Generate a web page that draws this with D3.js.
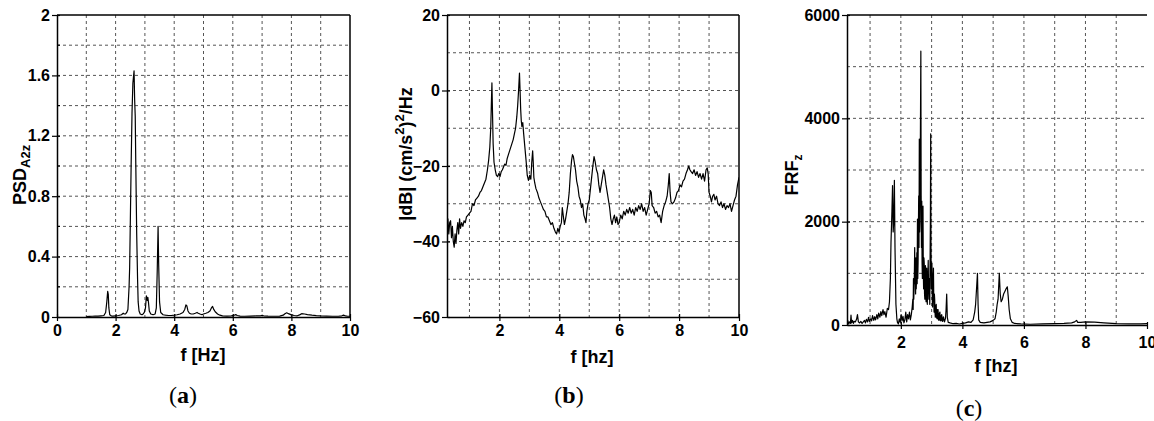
<!DOCTYPE html>
<html>
<head>
<meta charset="utf-8">
<script src="https://cdn.jsdelivr.net/npm/d3@7"></script>
<style>
  body { margin: 0; background: #fff; }
  svg { display: block; font-family: "Liberation Sans", Arial, sans-serif; }
  .tick text { font-size: 16px; font-weight: bold; fill: #000; }
  .title { font-weight: bold; fill: #000; }
  .caption { font-family: "Liberation Serif", "Times New Roman", serif; font-size: 24px; fill: #000; }
</style>
</head>
<body>
<svg id="chart" width="1154" height="421"></svg>
<script>
// (a) power spectral density, vertical acceleration: [f (Hz), PSD]
const psdA = [
  [1.0,0.003],[1.1,0.004],[1.2,0.005],[1.3,0.006],[1.4,0.006],[1.5,0.008],[1.6,0.01],
  [1.66,0.03],[1.7,0.1],[1.73,0.17],[1.75,0.15],[1.77,0.06],[1.8,0.015],[1.85,0.008],
  [1.9,0.006],[2.0,0.008],[2.1,0.01],[2.2,0.015],[2.26,0.025],[2.3,0.02],[2.34,0.02],
  [2.38,0.03],[2.42,0.05],[2.46,0.2],[2.48,0.33],[2.53,1.0],[2.56,1.35],[2.59,1.55],
  [2.63,1.63],[2.65,1.44],[2.67,1.33],[2.69,1.0],[2.72,0.55],[2.75,0.25],[2.77,0.1],
  [2.8,0.04],[2.84,0.02],[2.9,0.015],[2.94,0.02],[2.98,0.03],[3.02,0.06],[3.05,0.14],
  [3.08,0.11],[3.1,0.13],[3.12,0.1],[3.15,0.04],[3.2,0.02],[3.28,0.015],[3.35,0.02],
  [3.39,0.06],[3.42,0.3],[3.45,0.6],[3.47,0.35],[3.5,0.1],[3.54,0.03],[3.62,0.015],
  [3.7,0.012],[3.8,0.01],[3.9,0.01],[4.0,0.012],[4.1,0.015],[4.2,0.02],[4.3,0.03],
  [4.36,0.05],[4.4,0.08],[4.43,0.075],[4.47,0.04],[4.52,0.025],[4.58,0.02],[4.65,0.02],
  [4.72,0.025],[4.78,0.03],[4.82,0.025],[4.88,0.02],[4.95,0.015],[5.0,0.02],[5.08,0.025],
  [5.15,0.03],[5.22,0.04],[5.27,0.06],[5.31,0.07],[5.35,0.05],[5.4,0.035],[5.48,0.02],
  [5.56,0.012],[5.65,0.008],[5.8,0.006],[5.95,0.008],[6.05,0.012],[6.1,0.016],[6.15,0.01],
  [6.25,0.006],[6.4,0.005],[6.6,0.006],[6.8,0.007],[6.95,0.008],[7.0,0.012],[7.05,0.008],
  [7.2,0.006],[7.4,0.005],[7.6,0.006],[7.72,0.012],[7.78,0.022],[7.84,0.028],[7.9,0.022],
  [8.0,0.014],[8.1,0.01],[8.2,0.008],[8.28,0.014],[8.35,0.022],[8.45,0.02],[8.55,0.016],
  [8.7,0.012],[8.85,0.009],[9.0,0.007],[9.2,0.006],[9.4,0.005],[9.6,0.005],[9.72,0.008],
  [9.78,0.012],[9.85,0.007],[9.92,0.005],[10.0,0.005]
];

// (b) spectrum in decibels: [f (Hz), |dB|]
const dbB = [
  [0.25,-36],[0.28,-34],[0.31,-38],[0.34,-35],[0.37,-34.5],[0.4,-39],[0.43,-36],[0.46,-40],
  [0.49,-41.5],[0.52,-38],[0.55,-40.5],[0.58,-37],[0.61,-35],[0.64,-38],[0.67,-34],[0.7,-36.5],
  [0.74,-35],[0.78,-36],[0.82,-34.5],[0.86,-35],[0.9,-33.5],[0.95,-33],[1.0,-32.5],[1.05,-32],
  [1.1,-30],[1.15,-30.5],[1.2,-29],[1.25,-28.5],[1.3,-28],[1.35,-27],[1.4,-26.5],[1.45,-25.5],
  [1.5,-24.5],[1.55,-23.5],[1.6,-21],[1.64,-18.5],[1.68,-15],[1.71,-10],[1.73,-4],[1.75,2],
  [1.77,-6],[1.79,-14],[1.82,-19],[1.86,-21],[1.9,-22.5],[1.94,-22.8],[1.98,-22],[2.02,-22.8],
  [2.06,-21.5],[2.1,-21],[2.14,-20.2],[2.18,-19.5],[2.22,-19.8],[2.26,-18],[2.3,-17],[2.34,-16],
  [2.38,-15],[2.42,-14],[2.46,-13],[2.5,-11.5],[2.54,-10],[2.58,-7],[2.61,-4],[2.64,0],
  [2.67,4.6],[2.69,0],[2.71,-5],[2.73,-8],[2.75,-9.5],[2.78,-8.5],[2.81,-11.5],[2.85,-15],
  [2.89,-18.5],[2.93,-22.5],[2.97,-23.8],[3.01,-22.5],[3.05,-23.5],[3.08,-19],[3.11,-16],
  [3.13,-19],[3.15,-23],[3.18,-24.5],[3.22,-26],[3.27,-27],[3.32,-28.5],[3.37,-29.5],
  [3.42,-30.5],[3.47,-31.5],[3.52,-32],[3.57,-33.5],[3.62,-33.5],[3.67,-34.5],[3.72,-35.5],
  [3.77,-35],[3.82,-36.5],[3.87,-37.5],[3.91,-38],[3.95,-36.5],[3.99,-37.5],[4.03,-36],
  [4.07,-35],[4.1,-31],[4.13,-33],[4.17,-35.5],[4.21,-34],[4.25,-32],[4.29,-30],[4.33,-27],
  [4.37,-22],[4.41,-18.5],[4.44,-17],[4.47,-17.5],[4.5,-19],[4.54,-21],[4.58,-24],[4.62,-25.5],
  [4.66,-28],[4.7,-29],[4.74,-31],[4.78,-30],[4.82,-33],[4.86,-34],[4.89,-35],[4.92,-32],
  [4.96,-30],[5.0,-29],[5.04,-26],[5.08,-23],[5.12,-20],[5.16,-17.5],[5.2,-19],[5.24,-21],
  [5.28,-22],[5.32,-25],[5.36,-27],[5.4,-25],[5.44,-23],[5.48,-21],[5.52,-22.5],[5.56,-25],
  [5.6,-27],[5.64,-29],[5.68,-31],[5.72,-34],[5.76,-35.5],[5.8,-34],[5.84,-33],[5.88,-35],
  [5.92,-33.5],[5.96,-35.5],[6.0,-35],[6.05,-33],[6.1,-34],[6.15,-32],[6.2,-33],[6.25,-31.5],
  [6.3,-32.5],[6.35,-31],[6.4,-32.5],[6.45,-31.5],[6.5,-33],[6.55,-31],[6.6,-32],[6.65,-30.5],
  [6.7,-31.5],[6.75,-30],[6.8,-32],[6.85,-31],[6.9,-33],[6.95,-31.5],[7.0,-30],[7.04,-26.5],
  [7.07,-27],[7.1,-30.5],[7.15,-31],[7.2,-32.5],[7.25,-32],[7.3,-33.5],[7.35,-33],[7.4,-35],
  [7.45,-32],[7.5,-30.5],[7.55,-29.5],[7.6,-28],[7.64,-25],[7.67,-22],[7.7,-27],[7.73,-29.5],
  [7.78,-30],[7.83,-29.5],[7.88,-28.5],[7.93,-27],[7.98,-26.5],[8.03,-25],[8.08,-25.5],
  [8.13,-24],[8.18,-23.5],[8.23,-22],[8.28,-21],[8.32,-20],[8.36,-21],[8.4,-21.5],[8.45,-22],
  [8.5,-21],[8.55,-22.5],[8.6,-21.5],[8.65,-23],[8.7,-22],[8.75,-23.5],[8.8,-22],[8.85,-24],
  [8.9,-21],[8.94,-20.5],[8.97,-22],[9.0,-27],[9.04,-28],[9.08,-29.5],[9.12,-28],[9.16,-27.5],
  [9.2,-29],[9.25,-28],[9.3,-30],[9.35,-30.5],[9.4,-29.5],[9.45,-31],[9.5,-30],[9.55,-31.5],
  [9.6,-30.5],[9.65,-31],[9.7,-30],[9.75,-32],[9.8,-30.5],[9.85,-29],[9.9,-28],[9.95,-25],
  [10.0,-23]
];

// (c) frequency response function, vertical: [f (Hz), FRF]
const frfC = [
  [0.25,30],[0.28,80],[0.3,20],[0.33,60],[0.36,30],[0.38,190],[0.4,40],[0.43,90],[0.46,30],
  [0.48,70],[0.52,60],[0.56,110],[0.59,200],[0.62,60],[0.66,40],[0.7,70],[0.74,30],[0.78,60],
  [0.82,90],[0.85,40],[0.88,110],[0.92,60],[0.95,150],[0.98,70],[1.02,120],[1.05,80],
  [1.08,180],[1.12,90],[1.15,160],[1.18,100],[1.22,200],[1.25,120],[1.28,230],[1.32,150],
  [1.35,260],[1.38,180],[1.42,300],[1.45,200],[1.48,260],[1.52,150],[1.56,320],[1.6,300],
  [1.63,450],[1.66,900],[1.68,1600],[1.71,2200],[1.73,2700],[1.75,1800],[1.77,2000],
  [1.79,2800],[1.81,1500],[1.84,400],[1.87,120],[1.89,50],[1.92,20],[1.95,120],[1.98,50],
  [2.01,200],[2.04,80],[2.07,170],[2.1,40],[2.13,100],[2.16,250],[2.19,60],[2.22,200],
  [2.25,120],[2.28,250],[2.31,100],[2.34,200],[2.37,350],[2.39,500],[2.4,300],[2.41,900],
  [2.42,500],[2.43,700],[2.44,1000],[2.45,1500],[2.46,800],[2.47,1100],[2.48,600],[2.49,1300],
  [2.5,700],[2.51,900],[2.52,1400],[2.53,800],[2.54,2050],[2.55,900],[2.56,1200],[2.57,1800],
  [2.58,2500],[2.59,1500],[2.6,3600],[2.61,1800],[2.62,2000],[2.63,3000],[2.65,5300],
  [2.66,2500],[2.67,1500],[2.68,2400],[2.69,1200],[2.7,900],[2.71,2000],[2.72,2300],
  [2.73,1000],[2.74,700],[2.75,1300],[2.76,1200],[2.77,600],[2.78,500],[2.79,1000],
  [2.8,1150],[2.81,600],[2.82,450],[2.83,900],[2.84,1100],[2.85,500],[2.86,400],[2.87,800],
  [2.89,1250],[2.9,700],[2.91,500],[2.92,900],[2.93,800],[2.94,400],[2.95,1200],[2.96,2000],
  [2.97,3700],[2.98,1500],[2.99,700],[3.0,1000],[3.01,1200],[3.02,600],[3.03,350],[3.04,800],
  [3.06,1100],[3.07,500],[3.08,250],[3.09,600],[3.1,500],[3.11,250],[3.12,150],[3.13,350],
  [3.15,400],[3.16,150],[3.18,120],[3.19,300],[3.21,300],[3.22,100],[3.24,90],[3.25,220],
  [3.27,250],[3.28,100],[3.3,80],[3.31,180],[3.33,200],[3.34,90],[3.36,70],[3.38,160],
  [3.39,150],[3.41,80],[3.42,60],[3.44,110],[3.45,120],[3.47,300],[3.49,600],[3.51,150],
  [3.54,50],[3.6,40],[3.7,25],[3.8,30],[3.9,20],[4.0,30],
  [4.1,40],[4.2,60],[4.28,50],[4.35,100],[4.4,250],[4.43,400],[4.46,700],[4.49,1000],
  [4.51,400],[4.53,100],[4.58,50],[4.7,40],[4.8,50],[4.9,60],[5.0,90],[5.06,120],
  [5.1,250],[5.13,400],[5.16,500],[5.2,1000],[5.23,600],[5.26,450],[5.3,500],[5.34,600],
  [5.38,650],[5.42,700],[5.46,740],[5.49,550],[5.52,300],[5.56,120],[5.62,50],[5.7,30],
  [5.9,20],[6.2,15],[6.6,20],[7.0,25],[7.3,30],[7.55,40],[7.65,60],[7.71,90],[7.75,50],
  [7.85,50],[8.0,60],[8.3,55],[8.6,40],[9.0,25],[9.4,20],[9.8,20],[10.0,25]
];

// tick values and grid positions
const ticksAx = [0, 2, 4, 6, 8, 10];
const ticksAy = [0, 0.4, 0.8, 1.2, 1.6, 2];
const ticksBx = [2, 4, 6, 8, 10];
const ticksBy = [-60, -40, -20, 0, 20];
const ticksCx = [2, 4, 6, 8, 10];
const ticksCy = [0, 2000, 4000, 6000];
const gridF = [1, 2, 3, 4, 5, 6, 7, 8, 9];
const gridAy = [0.2, 0.4, 0.6, 0.8, 1.0, 1.2, 1.4, 1.6, 1.8];
const gridBy = [-50, -40, -30, -20, -10, 0, 10];
const gridCy = [1000, 2000, 3000, 4000, 5000];
const minorAy = [0.2, 0.6, 1.0, 1.4, 1.8];

const svg = d3.select("#chart");

function drawPanel(cfg) {
  const x = d3.scaleLinear().domain(cfg.xDomain).range([cfg.left, cfg.right]);
  const y = d3.scaleLinear().domain(cfg.yDomain).range([cfg.bottom, cfg.top]);
  const g = svg.append("g");

  const clipId = "clip-" + cfg.name;
  svg.append("clipPath").attr("id", clipId)
    .append("rect")
    .attr("x", cfg.left).attr("y", cfg.top - 1)
    .attr("width", cfg.right - cfg.left).attr("height", cfg.bottom - cfg.top + 1);

  // dashed grid
  g.append("g").selectAll("line").data(cfg.gridX).join("line")
    .attr("x1", d => x(d)).attr("x2", d => x(d))
    .attr("y1", cfg.top).attr("y2", cfg.bottom)
    .attr("stroke", "#555").attr("stroke-width", 1).attr("stroke-dasharray", "3,3");
  g.append("g").selectAll("line").data(cfg.gridY).join("line")
    .attr("y1", d => y(d)).attr("y2", d => y(d))
    .attr("x1", cfg.left).attr("x2", cfg.right)
    .attr("stroke", "#555").attr("stroke-width", 1).attr("stroke-dasharray", "3,3");

  // signal trace
  const line = d3.line().x(d => x(d[0])).y(d => y(d[1]));
  g.append("path").datum(cfg.data)
    .attr("clip-path", `url(#${clipId})`)
    .attr("fill", "none").attr("stroke", "#000").attr("stroke-width", 1.2)
    .attr("stroke-linejoin", "round")
    .attr("d", line);

  // frame (top, and right where shown)
  g.append("line").attr("x1", cfg.left).attr("x2", cfg.right)
    .attr("y1", cfg.top).attr("y2", cfg.top)
    .attr("stroke", "#000").attr("stroke-width", 1.5);
  if (cfg.rightFrame) {
    g.append("line").attr("x1", cfg.right).attr("x2", cfg.right)
      .attr("y1", cfg.top).attr("y2", cfg.bottom)
      .attr("stroke", "#000").attr("stroke-width", 1.5);
  }

  // axes
  const xAxis = d3.axisBottom(x).tickValues(cfg.xTicks).tickSize(4).tickSizeOuter(0)
    .tickPadding(cfg.xPad).tickFormat(d3.format("d"));
  const yAxis = d3.axisLeft(y).tickValues(cfg.yTicks).tickSize(5).tickSizeOuter(0)
    .tickPadding(2).tickFormat(cfg.yFormat);
  const gx = g.append("g").attr("transform", `translate(0,${cfg.bottom})`).call(xAxis);
  const gy = g.append("g").attr("transform", `translate(${cfg.left},0)`).call(yAxis);
  [gx, gy].forEach(a => {
    a.select(".domain").attr("stroke", "#000").attr("stroke-width", 1.5);
    a.selectAll(".tick line").attr("stroke", "#000").attr("stroke-width", 1.2);
    a.attr("font-family", null).attr("font-size", null);
  });
  // inward tick stubs
  gx.selectAll(".tick").append("line").attr("y1", 0).attr("y2", -3)
    .attr("stroke", "#000").attr("stroke-width", 1.2);
  gy.selectAll(".tick").append("line").attr("x1", 0).attr("x2", 3)
    .attr("stroke", "#000").attr("stroke-width", 1.2);
  if (cfg.minorY) {
    g.append("g").selectAll("line").data(cfg.minorY).join("line")
      .attr("x1", cfg.left).attr("x2", cfg.left + 3)
      .attr("y1", d => y(d)).attr("y2", d => y(d))
      .attr("stroke", "#000").attr("stroke-width", 1.2);
  }

  // x-axis title
  g.append("text").attr("class", "title")
    .attr("x", cfg.xTitleX).attr("y", cfg.xTitleY)
    .attr("text-anchor", "middle").attr("font-size", 18)
    .text(cfg.xTitle);

  // panel caption
  const cap = g.append("text").attr("class", "caption")
    .attr("x", cfg.capX).attr("y", cfg.capY).attr("text-anchor", "middle");
  cap.append("tspan").text("(");
  cap.append("tspan").attr("font-weight", "bold").text(cfg.capLetter);
  cap.append("tspan").text(")");

  return g;
}

// (a)
const gA = drawPanel({
  name: "a", data: psdA,
  left: 57, right: 350, top: 15, bottom: 317,
  xDomain: [0, 10], yDomain: [0, 2],
  xTicks: ticksAx, yTicks: ticksAy, gridX: gridF, gridY: gridAy, minorY: minorAy,
  yFormat: d => d === 0 ? "0" : (d === 2 ? "2" : d3.format(".1f")(d)),
  xPad: 4, rightFrame: true,
  xTitle: "f [Hz]", xTitleX: 203, xTitleY: 361,
  capX: 183, capY: 403, capLetter: "a"
});
const tA = gA.append("text").attr("class", "title")
  .attr("transform", "translate(26,205) rotate(-90)")
  .attr("font-size", 18);
tA.append("tspan").text("PSD");
tA.append("tspan").attr("font-size", 13).attr("dy", 4).text("A2z");

// (b)
const gB = drawPanel({
  name: "b", data: dbB,
  left: 447, right: 739, top: 15, bottom: 317,
  xDomain: [0.25, 10], yDomain: [-60, 20],
  xTicks: ticksBx, yTicks: ticksBy, gridX: gridF, gridY: gridBy,
  yFormat: d3.format("d"),
  xPad: 4, rightFrame: true,
  xTitle: "f [hz]", xTitleX: 592, xTitleY: 363,
  capX: 569, capY: 403, capLetter: "b"
});
const tB = gB.append("text").attr("class", "title")
  .attr("transform", "translate(412,154) rotate(-90)")
  .attr("text-anchor", "middle").attr("font-size", 18);
tB.append("tspan").text("|dB| (cm/s");
tB.append("tspan").attr("font-size", 13).attr("dy", -8).text("2");
tB.append("tspan").attr("dy", 8).text(")");
tB.append("tspan").attr("font-size", 13).attr("dy", -8).text("2");
tB.append("tspan").attr("dy", 8).text("/Hz");

// (c)
const gC = drawPanel({
  name: "c", data: frfC,
  left: 847, right: 1147, top: 15, bottom: 325,
  xDomain: [0.25, 10], yDomain: [0, 6000],
  xTicks: ticksCx, yTicks: ticksCy, gridX: gridF, gridY: gridCy,
  yFormat: d3.format("d"),
  xPad: 8, rightFrame: false,
  xTitle: "f [hz]", xTitleX: 996, xTitleY: 372,
  capX: 969, capY: 416, capLetter: "c"
});
const tC = gC.append("text").attr("class", "title")
  .attr("transform", "translate(798,175) rotate(-90)")
  .attr("text-anchor", "middle").attr("font-size", 18);
tC.append("tspan").text("FRF");
tC.append("tspan").attr("font-size", 12).attr("dy", 4).text("z");
</script>
</body>
</html>
